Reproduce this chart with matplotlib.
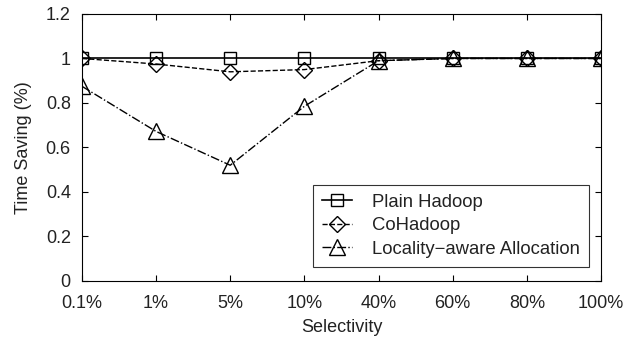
import matplotlib.pyplot as plt

categories = ['0.1%', '1%', '5%', '10%', '40%', '60%', '80%', '100%']
plain_hadoop = [1.0, 1.0, 1.0, 1.0, 1.0, 1.0, 1.0, 1.0]
cohadoop = [1.0, 0.975, 0.94, 0.95, 0.99, 1.0, 1.0, 1.0]
locality_aware = [0.875, 0.672, 0.52, 0.785, 0.99, 1.0, 1.0, 1.0]

plt.rcParams['font.family'] = ['Liberation Sans', 'DejaVu Sans']

fig = plt.figure(figsize=(6.3, 3.49), dpi=100)
ax = fig.add_axes([0.130, 0.195, 0.824, 0.765])

x = range(len(categories))
ax.plot(x, plain_hadoop, color='black', linestyle='-', linewidth=1.2,
        marker='s', markersize=8.5, markerfacecolor='none', markeredgewidth=1.0,
        label='Plain Hadoop')
ax.plot(x, cohadoop, color='black', linestyle='--', linewidth=1.0,
        marker='D', markersize=8.5, markerfacecolor='none', markeredgewidth=1.0,
        label='CoHadoop')
ax.plot(x, locality_aware, color='black', linestyle='-.', linewidth=1.0,
        marker='^', markersize=11, markerfacecolor='none', markeredgewidth=1.0,
        label='Locality\u2212aware Allocation')

ax.set_xlim(0, len(categories) - 1)
ax.set_ylim(0, 1.2)
ax.set_xticks(list(x))
ax.set_xticklabels(categories)
ax.set_yticks([0, 0.2, 0.4, 0.6, 0.8, 1.0, 1.2])
ax.set_yticklabels(['0', '0.2', '0.4', '0.6', '0.8', '1', '1.2'])
ax.tick_params(direction='in', length=4, labelsize=13, top=True, right=True,
               colors='black', labelcolor='#222222')
ax.tick_params(axis='x', pad=10)
ax.tick_params(axis='y', pad=8)
for s in ax.spines.values():
    s.set_linewidth(0.8)

ax.set_xlabel('Selectivity', fontsize=13, labelpad=5, color='#222222')
ax.set_ylabel('Time Saving (%)', fontsize=13, labelpad=10, color='#222222')

leg = ax.legend(loc='lower right', bbox_to_anchor=(0.977, 0.052), fontsize=13.3,
                frameon=True, fancybox=False, edgecolor='black',
                handlelength=1.6, handletextpad=1.1, borderpad=0.5,
                labelspacing=0.35, borderaxespad=0)
leg.get_frame().set_linewidth(0.8)
for t in leg.get_texts():
    t.set_color('#222222')

fig.savefig('out.png', dpi=100)
